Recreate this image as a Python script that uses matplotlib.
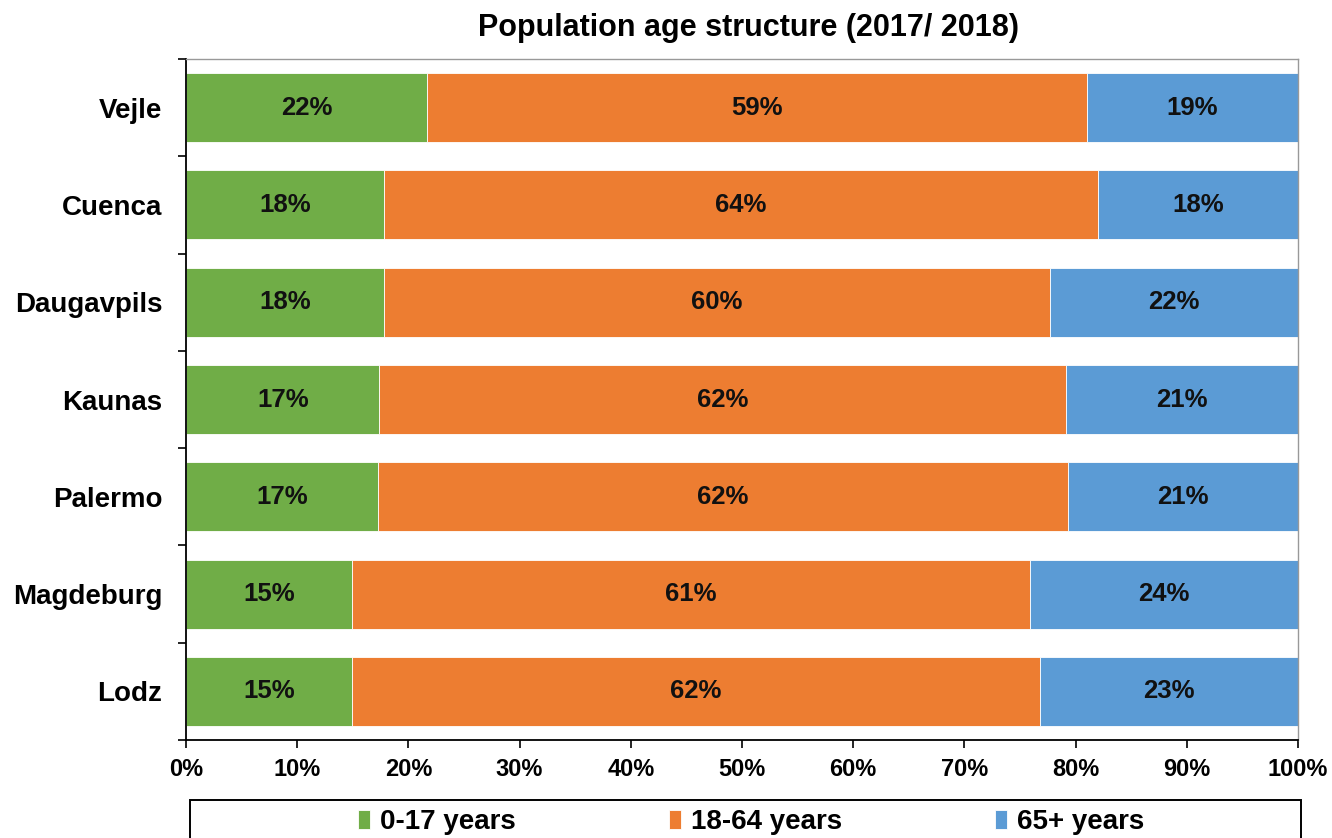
import matplotlib
matplotlib.use("Agg")
import matplotlib.pyplot as plt
from matplotlib.patches import Rectangle
import numpy as np

plt.rcParams['font.family'] = ['Liberation Sans', 'DejaVu Sans']
plt.rcParams['font.weight'] = 'bold'

cities = ["Vejle", "Cuenca", "Daugavpils", "Kaunas", "Palermo", "Magdeburg", "Lodz"]
young = [21.7, 17.8, 17.8, 17.4, 17.3, 14.9, 14.9]
adult = [59.3, 64.2, 59.9, 61.7, 62.0, 61.0, 61.9]
old = [19.0, 18.0, 22.3, 20.9, 20.7, 24.1, 23.2]
series_names = ["0-17 years", "18-64 years", "65+ years"]
colors = ["#70AD47", "#ED7D31", "#5B9BD5"]

W, H = 1332, 838
fig = plt.figure(figsize=(W/100, H/100), dpi=100)
ax = fig.add_axes([186/W, 1-740/H, 1112/W, 681/H])

y = np.arange(len(cities))
left = np.zeros(len(cities))
for vals, name, col in zip([young, adult, old], series_names, colors):
    vals = np.array(vals)
    ax.barh(y, vals, left=left, height=0.71, color=col, label=name,
            edgecolor='white', linewidth=0.6)
    for yi, l, v in zip(y, left, vals):
        ax.text(l + v/2, yi, "%d%%" % round(v), ha='center', va='center',
                fontsize=18.5, fontweight='bold', color='#111111')
    left = left + vals

ax.set_xlim(0, 100)
ax.set_ylim(len(cities) - 0.5, -0.5)
ax.set_xticks(np.arange(0, 101, 10))
ax.set_xticklabels(["%d%%" % v for v in range(0, 101, 10)], fontsize=17, fontweight='bold')
ax.set_yticks(y)
ax.set_yticklabels(cities, fontsize=20, fontweight='bold')
ax.tick_params(axis='y', length=0, pad=17)
ax.set_yticks(np.arange(-0.5, len(cities), 1), minor=True)
ax.tick_params(axis='y', which='minor', length=6, width=1.2, direction='out')
ax.tick_params(axis='x', length=6, width=1.2, direction='out', pad=7)

for s in ['top', 'right']:
    ax.spines[s].set_color('#999999')
    ax.spines[s].set_linewidth(1)
for s in ['left', 'bottom']:
    ax.spines[s].set_color('black')
    ax.spines[s].set_linewidth(1.3)

fig.text(749/W, 1-28/H, "Population age structure (2017/ 2018)", ha='center', va='center',
         fontsize=22, fontweight='bold')

# legend box (cut off by the bottom of the figure)
fig.patches.append(Rectangle((190/W, -20/H), 1111/W, (H - 800 + 20)/H,
                             transform=fig.transFigure, fill=False,
                             edgecolor='black', linewidth=1.4))
leg = fig.legend(loc='center', bbox_to_anchor=(751/W, 1-822/H), ncol=3,
                 fontsize=20, frameon=False, handlelength=0.45, handleheight=0.7,
                 handletextpad=0.35, columnspacing=5.5, borderaxespad=0, borderpad=0)
for t in leg.get_texts():
    t.set_fontweight('bold')

fig.savefig("out.png", dpi=100)
